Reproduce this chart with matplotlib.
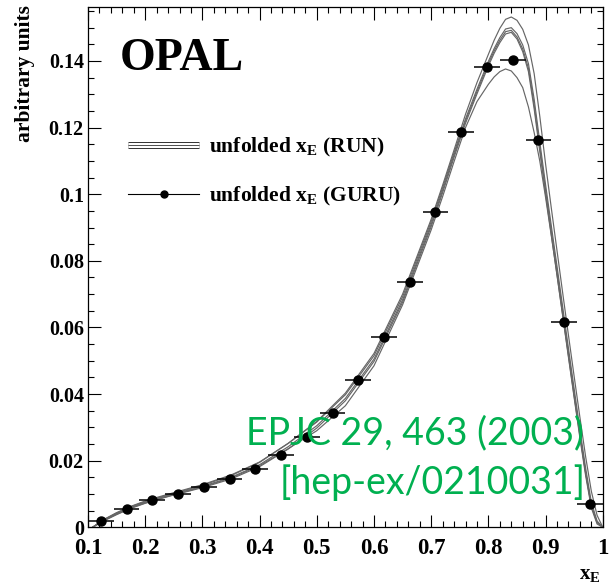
import matplotlib
matplotlib.use('Agg')
import matplotlib.pyplot as plt
import matplotlib.patheffects as pe
from matplotlib.lines import Line2D
from matplotlib.ticker import MultipleLocator, FuncFormatter

# ---- data ----
# unfolded x_E (GURU): bin centres, half bin width, values
x_guru = [0.1225, 0.1675, 0.2125, 0.2575, 0.3025, 0.3475, 0.3925, 0.4375, 0.4825, 0.5275,
          0.5725, 0.6175, 0.6625, 0.7075, 0.7525, 0.7975, 0.8425, 0.8875, 0.9325, 0.9775]
y_guru = [0.0018, 0.0056, 0.0081, 0.0101, 0.0121, 0.0146, 0.0176, 0.0217, 0.0271, 0.0344,
          0.0441, 0.0571, 0.0736, 0.0948, 0.1186, 0.1383, 0.1403, 0.1162, 0.0616, 0.0069]
half_bin = 0.0225

# unfolded x_E (RUN): several smooth solutions sampled on a common grid
x_run = [0.108, 0.125, 0.15, 0.175, 0.20, 0.225, 0.25, 0.30, 0.35, 0.40, 0.45, 0.50, 0.55, 0.60,
         0.65, 0.70, 0.72, 0.74, 0.76, 0.78, 0.80, 0.81, 0.82, 0.83, 0.84, 0.85, 0.86, 0.87,
         0.88, 0.89, 0.90, 0.91, 0.92, 0.93, 0.94, 0.95, 0.96, 0.97, 0.98, 0.99, 1.0]
run_top = [0, 0.0020, 0.0043, 0.0062, 0.0077, 0.0090, 0.0102, 0.0126, 0.0155, 0.0195, 0.0252,
           0.0318, 0.0403, 0.0522, 0.0700, 0.0925, 0.1027, 0.1133, 0.1240, 0.1335, 0.1420,
           0.1462, 0.1498, 0.1525, 0.1532, 0.1522, 0.1495, 0.1448, 0.1362, 0.1232, 0.1090,
           0.0958, 0.0830, 0.0702, 0.0576, 0.0452, 0.0330, 0.0212, 0.0108, 0.0036, 0]
run_b1 = [0, 0.0021, 0.0044, 0.0063, 0.0079, 0.0092, 0.0104, 0.0128, 0.0157, 0.0196, 0.0252,
          0.0316, 0.0398, 0.0515, 0.0692, 0.0918, 0.1020, 0.1125, 0.1226, 0.1315, 0.1399,
          0.1437, 0.1470, 0.1496, 0.1500, 0.1482, 0.1448, 0.1392, 0.1285, 0.1155, 0.1028,
          0.0905, 0.0783, 0.0660, 0.0537, 0.0415, 0.0294, 0.0178, 0.0075, 0.0019, 0]
run_b2 = [0, 0.0019, 0.0041, 0.0060, 0.0075, 0.0088, 0.0100, 0.0123, 0.0150, 0.0188, 0.0242,
          0.0305, 0.0387, 0.0505, 0.0683, 0.0910, 0.1012, 0.1118, 0.1220, 0.1308, 0.1392,
          0.1430, 0.1462, 0.1488, 0.1492, 0.1472, 0.1436, 0.1378, 0.1268, 0.1138, 0.1012,
          0.0890, 0.0768, 0.0645, 0.0522, 0.0400, 0.0280, 0.0165, 0.0065, 0.0014, 0]
run_b3 = [0, 0.0017, 0.0038, 0.0057, 0.0072, 0.0085, 0.0097, 0.0119, 0.0145, 0.0182, 0.0235,
          0.0298, 0.0380, 0.0498, 0.0676, 0.0903, 0.1005, 0.1111, 0.1213, 0.1301, 0.1385,
          0.1423, 0.1455, 0.1481, 0.1486, 0.1466, 0.1428, 0.1368, 0.1256, 0.1126, 0.1000,
          0.0878, 0.0756, 0.0633, 0.0510, 0.0388, 0.0268, 0.0155, 0.0058, 0.0010, 0]
run_low = [0, 0.0018, 0.0039, 0.0058, 0.0073, 0.0086, 0.0098, 0.0121, 0.0148, 0.0185, 0.0236,
           0.0290, 0.0365, 0.0485, 0.0668, 0.0893, 0.0993, 0.1098, 0.1200, 0.1278, 0.1330,
           0.1352, 0.1368, 0.1376, 0.1370, 0.1350, 0.1320, 0.1262, 0.1185, 0.1098, 0.0990,
           0.0875, 0.0757, 0.0636, 0.0514, 0.0393, 0.0274, 0.0162, 0.0064, 0.0015, 0]
run_curves = [run_top, run_b1, run_b2, run_b3, run_low]

serif = 'Liberation Serif'
plt.rcParams['font.family'] = serif
plt.rcParams['font.weight'] = 'bold'
plt.rcParams['mathtext.fontset'] = 'custom'
plt.rcParams['mathtext.rm'] = 'Liberation Serif:bold'
plt.rcParams['mathtext.bf'] = 'Liberation Serif:bold'

fig = plt.figure(figsize=(6.09, 5.85), dpi=100)
ax = fig.add_axes([88 / 609, 57.7 / 585, 514.8 / 609, 520.3 / 585])

for yc in run_curves:
    ax.plot(x_run, yc, color='0.4', lw=0.85)

ax.errorbar(x_guru, y_guru, xerr=half_bin, fmt='o', color='k', ms=6.5, elinewidth=1.1,
            capsize=0, zorder=5)

ax.set_xlim(0.1, 1.0)
ax.set_ylim(0, 0.1562)
ax.xaxis.set_major_locator(MultipleLocator(0.1))
ax.xaxis.set_minor_locator(MultipleLocator(0.02))
ax.yaxis.set_major_locator(MultipleLocator(0.02))
ax.yaxis.set_minor_locator(MultipleLocator(0.005))
fmt = FuncFormatter(lambda v, p: f'{v:g}')
ax.xaxis.set_major_formatter(fmt)
ax.yaxis.set_major_formatter(fmt)
ax.tick_params(which='both', direction='in', top=True, right=True, width=0.8)
ax.tick_params(which='major', length=9)
ax.tick_params(which='minor', length=4.5)
ax.tick_params(axis='x', labelsize=16.5, pad=8)
ax.tick_params(axis='y', labelsize=14.5, pad=3)
for s in ax.spines.values():
    s.set_linewidth(0.9)

# legend
h_run = Line2D([], [], color='0.2', lw=0.6, solid_capstyle='butt',
               path_effects=[pe.Stroke(linewidth=5.0, foreground='0.2', capstyle='butt'),
                             pe.Stroke(linewidth=3.6, foreground='white', capstyle='butt'),
                             pe.Normal()])
h_guru = Line2D([], [], color='k', lw=0.8, marker='o', ms=5)
ax.legend([h_run, h_guru], [r'unfolded x$_{\mathrm{E}}$ (RUN)', r'unfolded x$_{\mathrm{E}}$ (GURU)'],
          loc='upper left', bbox_to_anchor=(0.078, 0.752), frameon=False, fontsize=15.5,
          handlelength=3.3, handletextpad=0.45, labelspacing=1.22, borderpad=0, borderaxespad=0)

ax.text(0.062, 0.9, 'OPAL', transform=ax.transAxes, fontsize=33, fontweight='bold',
        ha='left', va='center')

fig.text(25 / 609, 1 - 5 / 585, 'arbitrary units', rotation=90, ha='center', va='top', fontsize=15.5)
fig.text(601 / 609, 1 - 575 / 585, r'x$_{\mathrm{E}}$', ha='right', va='center', fontsize=15)

green = '#00B050'
fig.text(584 / 609, 1 - 433 / 585, 'EPJC 29, 463 (2003)', ha='right', va='center',
         color=green, family='Lato', fontweight='normal', fontsize=27)
fig.text(586 / 609, 1 - 483 / 585, '[hep-ex/0210031]', ha='right', va='center',
         color=green, family='Lato', fontweight='normal', fontsize=27)

fig.savefig('out.png', dpi=100)
